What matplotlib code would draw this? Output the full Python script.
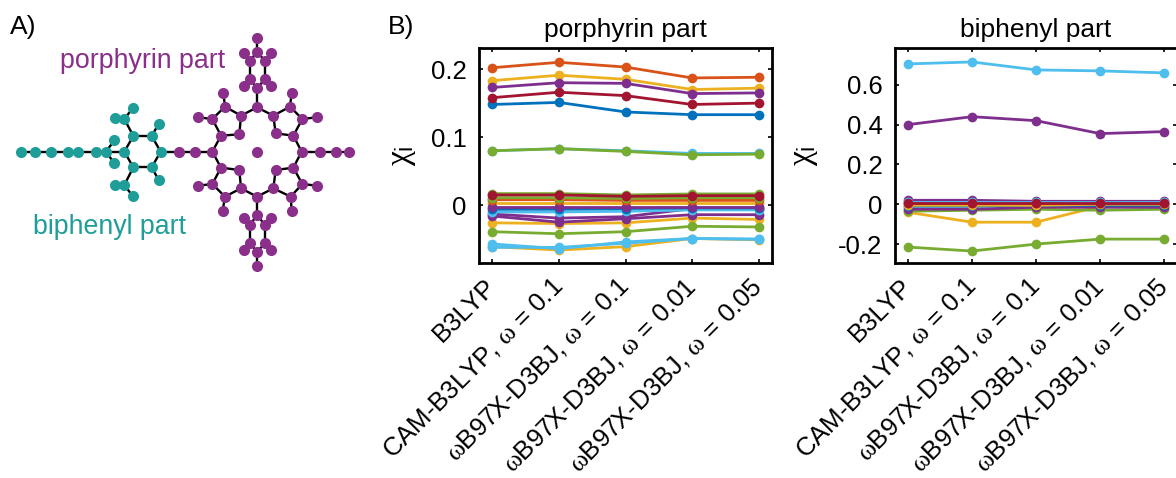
#!/usr/bin/env python3
# -*- coding: utf-8 -*-
import matplotlib
matplotlib.use("Agg")
import matplotlib.pyplot as plt

plt.rcParams['font.family'] = ['Liberation Sans', 'DejaVu Sans']
plt.rcParams['mathtext.fontset'] = 'custom'
plt.rcParams['mathtext.rm'] = 'Liberation Sans'
plt.rcParams['mathtext.it'] = 'Liberation Serif'

methods = ['B3LYP', 'CAM-B3LYP, $\\omega$ = 0.1', '$\\omega$B97X-D3BJ, $\\omega$ = 0.1',
           '$\\omega$B97X-D3BJ, $\\omega$ = 0.01', '$\\omega$B97X-D3BJ, $\\omega$ = 0.05']
positions = [1, 2, 3, 4, 5]

#matlab line colours
blue = '#0072BD'
orange = '#D95319'
yellow = '#EDB120'
purple = '#7E2F8E'
green = '#77AC30'
cyan = '#4DBEEE'
darkred = '#A2142F'

#porphyrin part, bottom of the draw order first
porphyrin_series = [
    (yellow, [-0.061, -0.066, -0.061, -0.049, -0.051]),
    (cyan, [-0.057, -0.064, -0.054, -0.049, -0.050]),
    (cyan, [-0.062, -0.062, -0.056, -0.049, -0.050]),
    (yellow, [-0.026, -0.027, -0.026, -0.019, -0.021]),
    (green, [-0.039, -0.042, -0.039, -0.031, -0.032]),
    (purple, [-0.016, -0.025, -0.020, -0.014, -0.014]),
    (purple, [-0.013, -0.019, -0.017, -0.005, -0.005]),
    (cyan, [-0.010, -0.010, -0.009, -0.007, -0.007]),
    (blue, [-0.006, -0.006, -0.005, -0.004, -0.004]),
    (yellow, [0.003, 0.003, 0.003, 0.003, 0.003]),
    (purple, [-0.002, -0.002, -0.002, -0.002, -0.002]),
    (orange, [0.008, 0.008, 0.007, 0.007, 0.007]),
    (green, [0.017, 0.017, 0.015, 0.0165, 0.0165]),
    (green, [0.011, 0.011, 0.010, 0.011, 0.011]),
    (darkred, [0.015, 0.015, 0.013, 0.014, 0.014]),
    (cyan, [0.080, 0.083, 0.080, 0.076, 0.076]),
    (green, [0.080, 0.083, 0.079, 0.074, 0.075]),
    (blue, [0.148, 0.151, 0.137, 0.133, 0.133]),
    (darkred, [0.158, 0.166, 0.161, 0.148, 0.150]),
    (yellow, [0.183, 0.191, 0.185, 0.170, 0.172]),
    (purple, [0.173, 0.180, 0.179, 0.164, 0.165]),
    (orange, [0.202, 0.210, 0.203, 0.187, 0.188]),
]

#biphenyl part
biphenyl_series = [
    (cyan, [0.705, 0.715, 0.675, 0.670, 0.660]),
    (purple, [0.400, 0.440, 0.420, 0.355, 0.365]),
    (green, [-0.215, -0.235, -0.200, -0.175, -0.175]),
    (yellow, [-0.040, -0.090, -0.090, -0.010, -0.015]),
    (green, [-0.035, -0.030, -0.025, -0.030, -0.025]),
    (purple, [-0.025, -0.025, -0.015, -0.015, -0.015]),
    (blue, [-0.010, -0.010, -0.005, -0.005, -0.005]),
    (yellow, [-0.005, -0.005, -0.005, 0.000, 0.000]),
    (orange, [0.005, 0.005, 0.005, 0.005, 0.005]),
    (purple, [0.020, 0.020, 0.015, 0.015, 0.015]),
    (cyan, [0.010, 0.010, 0.010, 0.010, 0.010]),
    (darkred, [0.005, 0.005, 0.005, 0.005, 0.005]),
]

#molecule sketch in pixels x 3
teal_atoms = [(63, 455), (105, 455), (152, 455), (205, 455), (235, 455), (288, 455),
              (318, 455), (343, 421), (343, 490), (373, 455), (400, 408), (455, 408),
              (482, 455), (455, 502), (400, 502), (373, 357), (345, 355), (398, 325),
              (476, 372), (476, 540), (373, 555), (345, 555), (398, 588)]
purple_atoms = [(537, 455), (584, 455), (637, 455),
                (663, 407), (718, 403), (723, 347), (675, 320), (637, 357), (595, 352), (670, 278),
                (771, 322), (820, 347), (827, 400), (880, 407), (907, 357), (870, 320), (875, 278), (950, 352),
                (905, 455), (960, 455), (1007, 455), (1047, 455), (771, 455),
                (663, 503), (718, 510), (723, 565), (675, 590), (637, 552), (595, 557), (668, 632),
                (771, 590), (820, 565), (827, 510), (880, 503), (907, 552), (872, 590), (875, 632), (950, 557),
                (771, 265), (750, 237), (795, 237), (733, 257), (813, 257), (750, 183), (795, 183),
                (771, 155), (733, 160), (813, 160), (771, 113),
                (771, 645), (750, 675), (795, 675), (733, 655), (813, 655), (750, 730), (795, 730),
                (771, 755), (733, 750), (813, 750), (771, 798)]
bonds = [(0, 1), (1, 2), (2, 3), (3, 4), (4, 5), (5, 6), (6, 7), (6, 8), (6, 9), (9, 10), (10, 11),
         (11, 12), (12, 13), (13, 14), (14, 9), (10, 15), (15, 16), (15, 17), (11, 18), (13, 19),
         (14, 20), (20, 21), (20, 22), (12, 23), (23, 24), (24, 25), (25, 26), (26, 27), (27, 28),
         (28, 29), (29, 30), (30, 26), (30, 31), (29, 32), (28, 33), (33, 34), (34, 35), (35, 36),
         (36, 37), (37, 38), (38, 34), (38, 39), (37, 40), (36, 41), (41, 42), (42, 43), (43, 44),
         (41, 56), (56, 55), (55, 54), (56, 57), (57, 58), (58, 54), (58, 59), (57, 60), (54, 53),
         (53, 48), (48, 47), (47, 46), (46, 25), (46, 50), (50, 49), (49, 48), (50, 51), (49, 52),
         (33, 61), (61, 62), (61, 63), (62, 64), (63, 65), (62, 66), (63, 67), (66, 68), (67, 68),
         (66, 69), (67, 70), (68, 71), (53, 72), (72, 73), (72, 74), (73, 75), (74, 76), (73, 77),
         (74, 78), (77, 79), (78, 79), (77, 80), (78, 81), (79, 82)]

W, H = 1176, 478
fig = plt.figure(figsize=(W / 100, H / 100), dpi=100)

#panel A lives in its own pixel sized axes
axm = fig.add_axes([0, 0, 1, 1])
axm.set_xlim(0, W)
axm.set_ylim(H, 0)
axm.axis('off')

all_atoms = teal_atoms + purple_atoms
for a, b in bonds:
    axm.plot([all_atoms[a][0] / 3, all_atoms[b][0] / 3], [all_atoms[a][1] / 3, all_atoms[b][1] / 3],
             color='black', lw=1.7, zorder=1)
axm.scatter([p[0] / 3 for p in teal_atoms], [p[1] / 3 for p in teal_atoms],
            s=64, color='#1F9E99', linewidths=0, zorder=2)
axm.scatter([p[0] / 3 for p in purple_atoms], [p[1] / 3 for p in purple_atoms],
            s=64, color='#8A2F8A', linewidths=0, zorder=2)
axm.text(10, 27, 'A)', fontsize=19, va='center', ha='left')
axm.text(388, 27, 'B)', fontsize=19, va='center', ha='left')
axm.text(60, 61, 'porphyrin part', fontsize=19.3, color='#8A2F8A', va='center', ha='left')
axm.text(33, 227, 'biphenyl part', fontsize=19.3, color='#1F9E99', va='center', ha='left')


def draw_panel(box, series, ylim, yticks, yticklabels, title, labelpad):
    ax = fig.add_axes([box[0] / W, 1 - box[3] / H, (box[2] - box[0]) / W, (box[3] - box[1]) / H])
    for colour, values in series:
        ax.plot(positions, values, '-o', color=colour, lw=2, ms=7, mew=0)
    ax.set_xlim(0.8, 5.2)
    ax.set_ylim(*ylim)
    ax.set_xticks(positions)
    ax.set_xticklabels(methods, rotation=45, ha='right', va='center', rotation_mode='anchor', fontsize=18.5)
    ax.set_yticks(yticks)
    ax.set_yticklabels(yticklabels, fontsize=18.5)
    ax.tick_params(direction='in', top=True, right=True, length=3, width=1.2)
    ax.tick_params(axis='x', pad=14)
    ax.tick_params(axis='y', pad=9)
    ax.set_ylabel('$\\chi_{\\mathrm{i}}$', fontsize=24, labelpad=labelpad)
    ax.set_title(title, fontsize=19, pad=8)
    for side in ax.spines.values():
        side.set_linewidth(2)
    return ax


draw_panel((479, 48, 772, 263), porphyrin_series, (-0.085, 0.231),
           [0, 0.1, 0.2], ['0', '0.1', '0.2'], 'porphyrin part', 9)
draw_panel((895, 48, 1177, 263), biphenyl_series, (-0.295, 0.785),
           [-0.2, 0, 0.2, 0.4, 0.6], ['-0.2', '0', '0.2', '0.4', '0.6'], 'biphenyl part', 13)

plt.savefig('out.png', dpi=100)
